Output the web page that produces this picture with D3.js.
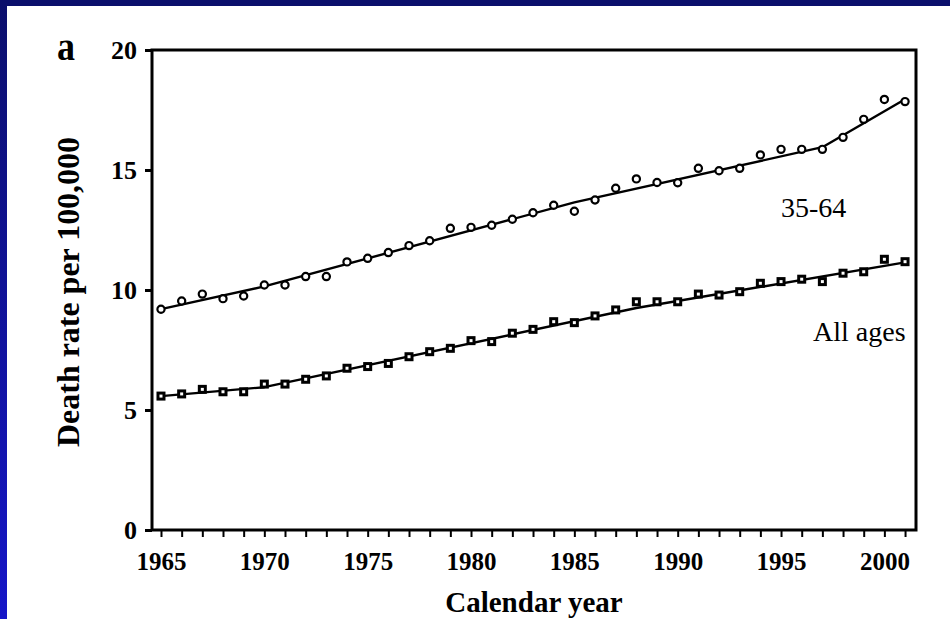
<!DOCTYPE html>
<html>
<head>
<meta charset="utf-8">
<script src="https://cdn.jsdelivr.net/npm/d3@7"></script>
<style>
  body { margin: 0; background: #fff; }
  svg { display: block; }
  text { font-family: "Liberation Serif", "Times New Roman", serif; }
</style>
</head>
<body>
<div id="chart"></div>
<script>
var years = [1965, 1966, 1967, 1968, 1969, 1970, 1971, 1972, 1973, 1974, 1975, 1976, 1977,
             1978, 1979, 1980, 1981, 1982, 1983, 1984, 1985, 1986, 1987, 1988, 1989,
             1990, 1991, 1992, 1993, 1994, 1995, 1996, 1997, 1998, 1999, 2000, 2001];

var rate3564 = [9.2, 9.54, 9.83, 9.64, 9.75, 10.21, 10.21, 10.56, 10.56, 11.17, 11.32, 11.56, 11.85,
                12.05, 12.57, 12.61, 12.70, 12.95, 13.22, 13.53, 13.28, 13.75, 14.24, 14.63, 14.48,
                14.47, 15.07, 14.97, 15.07, 15.63, 15.86, 15.86, 15.86, 16.36, 17.11, 17.94, 17.85];

var rateAll = [5.58, 5.67, 5.86, 5.76, 5.76, 6.08, 6.08, 6.28, 6.42, 6.74, 6.81, 6.94, 7.22,
               7.43, 7.57, 7.89, 7.85, 8.2, 8.36, 8.68, 8.64, 8.92, 9.17, 9.51, 9.51,
               9.51, 9.83, 9.79, 9.93, 10.28, 10.35, 10.45, 10.35, 10.7, 10.76, 11.28, 11.18];

// fitted joinpoint trend lines (knots)
var fitYears3564 = [1965, 1970, 1985, 1997, 2001];
var fit3564 = [9.2, 10.15, 13.65, 15.95, 17.95];

var fitYearsAll = [1965, 1970, 1988, 2001];
var fitAll = [5.58, 5.95, 9.25, 11.15];

var yTicks = [0, 5, 10, 15, 20];
var xLabelYears = [1965, 1970, 1975, 1980, 1985, 1990, 1995, 2000];

// Set the dimensions of the canvas / graph
var W = 950, H = 619;
var margin = {top: 50, right: 34, bottom: 89, left: 152};

var svg = d3.select("#chart")
  .append("svg")
    .attr("width", W)
    .attr("height", H);

// slide background: white with blue bands on top / left
var grad = svg.append("defs").append("linearGradient")
    .attr("id", "leftband")
    .attr("x1", 0).attr("y1", 0).attr("x2", 0).attr("y2", 1);
grad.append("stop").attr("offset", "0%").attr("stop-color", "#0b0f6c");
grad.append("stop").attr("offset", "100%").attr("stop-color", "#1616c8");

svg.append("rect").attr("width", W).attr("height", H).attr("fill", "#fff");
svg.append("rect").attr("width", W).attr("height", 6).attr("fill", "#0b0f6c");
svg.append("rect").attr("width", 7).attr("height", H).attr("fill", "url(#leftband)");

var x = d3.scaleLinear()
    .domain([1964.565, 2001.53])
    .range([margin.left, W - margin.right]);

var y = d3.scaleLinear()
    .domain([0, 20])
    .range([H - margin.bottom, margin.top]);

// x axis: a tick every year, labels every 5
svg.append("g")
    .attr("transform", `translate(0,${H - margin.bottom})`)
    .call(d3.axisBottom(x)
        .tickValues(years)
        .tickSize(7)
        .tickPadding(15)
        .tickFormat(d => xLabelYears.indexOf(d) >= 0 ? d : ""))
    .call(g => g.select(".domain").remove())
    .call(g => g.selectAll(".tick line").attr("stroke", "#000").attr("stroke-width", 2))
    .call(g => g.selectAll(".tick text")
        .attr("fill", "#000")
        .attr("font-family", '"Liberation Serif", serif')
        .attr("font-weight", "bold")
        .attr("font-size", 25));

// y axis
svg.append("g")
    .attr("transform", `translate(${margin.left},0)`)
    .call(d3.axisLeft(y)
        .tickValues(yTicks)
        .tickSize(7)
        .tickPadding(8))
    .call(g => g.select(".domain").remove())
    .call(g => g.selectAll(".tick line").attr("stroke", "#000").attr("stroke-width", 3))
    .call(g => g.selectAll(".tick text")
        .attr("fill", "#000")
        .attr("font-family", '"Liberation Serif", serif')
        .attr("font-weight", "bold")
        .attr("font-size", 26));

// frame
svg.append("rect")
    .attr("x", x.range()[0])
    .attr("y", y.range()[1])
    .attr("width", x.range()[1] - x.range()[0])
    .attr("height", y.range()[0] - y.range()[1])
    .attr("fill", "none")
    .attr("stroke", "#000")
    .attr("stroke-width", 3);

var line = d3.line()
    .x(d => x(d[0]))
    .y(d => y(d[1]));

svg.append("path")
    .datum(d3.zip(fitYears3564, fit3564))
    .attr("d", line)
    .attr("fill", "none")
    .attr("stroke", "#000")
    .attr("stroke-width", 2.4)
    .attr("stroke-linejoin", "round");

svg.append("path")
    .datum(d3.zip(fitYearsAll, fitAll))
    .attr("d", line)
    .attr("fill", "none")
    .attr("stroke", "#000")
    .attr("stroke-width", 2.4)
    .attr("stroke-linejoin", "round");

// 35-64 observed: open circles
svg.append("g")
  .selectAll("circle")
  .data(d3.zip(years, rate3564))
  .join("circle")
    .attr("cx", d => x(d[0]))
    .attr("cy", d => y(d[1]))
    .attr("r", 3.6)
    .attr("fill", "#fff")
    .attr("stroke", "#000")
    .attr("stroke-width", 2.2);

// all ages observed: squares
var sq = 6;
svg.append("g")
  .selectAll("rect")
  .data(d3.zip(years, rateAll))
  .join("rect")
    .attr("x", d => x(d[0]) - sq / 2)
    .attr("y", d => y(d[1]) - sq / 2)
    .attr("width", sq)
    .attr("height", sq)
    .attr("fill", "#fff")
    .attr("stroke", "#000")
    .attr("stroke-width", 3);

// series labels
svg.append("text")
    .attr("x", 781).attr("y", 217)
    .attr("font-size", 28)
    .text("35-64");

svg.append("text")
    .attr("x", 813).attr("y", 341)
    .attr("font-size", 28)
    .text("All ages");

// panel letter
svg.append("text")
    .attr("x", 57).attr("y", 60)
    .attr("font-size", 40)
    .attr("font-weight", "bold")
    .attr("textLength", 18)
    .attr("lengthAdjust", "spacingAndGlyphs")
    .text("a");

// axis titles
svg.append("text")
    .attr("transform", "translate(79,292) rotate(-90)")
    .attr("text-anchor", "middle")
    .attr("font-size", 32)
    .attr("font-weight", "bold")
    .attr("textLength", 310)
    .attr("lengthAdjust", "spacingAndGlyphs")
    .text("Death rate per 100,000");

svg.append("text")
    .attr("x", 534).attr("y", 612)
    .attr("text-anchor", "middle")
    .attr("font-size", 29)
    .attr("font-weight", "bold")
    .text("Calendar year");
</script>
</body>
</html>
